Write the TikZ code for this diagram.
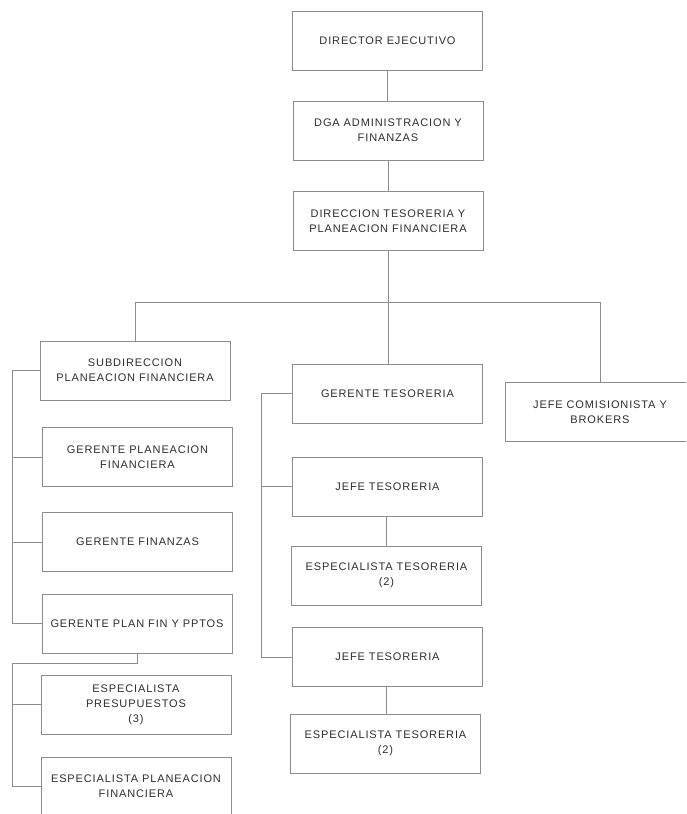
\documentclass[tikz,border=0pt]{standalone}
\usepackage{fontspec}
\setmainfont{Liberation Sans}[LetterSpace=8]
\begin{document}
\begin{tikzpicture}[x=1pt,y=-1pt,
  box/.style={draw=black!45, line width=0.6pt, minimum width=190pt, minimum height=59pt,
    align=center, inner sep=2pt, text=black!82,
    font=\fontsize{11}{15}\selectfont},
  link/.style={draw=black!45, line width=0.6pt}]
\useasboundingbox (0,0) rectangle (686,814);
\clip (0,0) rectangle (686,814);
\fill[white] (0,0) rectangle (686,814);
% top column
\node[box] (dir) at (387.5,41) {DIRECTOR EJECUTIVO};
\node[box] (dga) at (388,130.5) {DGA ADMINISTRACION Y\\FINANZAS};
\node[box] (dtp) at (388,221) {DIRECCION TESORERIA Y\\PLANEACION FINANCIERA};
% left column
\node[box] (sub) at (135,370.5) {SUBDIRECCION\\PLANEACION FINANCIERA};
\node[box] (gplan) at (137.5,457) {GERENTE PLANEACION\\FINANCIERA};
\node[box] (gfin) at (137.5,542) {GERENTE FINANZAS};
\node[box] (gpf) at (137,623.5) {GERENTE PLAN FIN Y PPTOS};
\node[box] (espp) at (136,704.5) {ESPECIALISTA\\PRESUPUESTOS\\(3)};
\node[box] (espl) at (136,786.5) {ESPECIALISTA PLANEACION\\FINANCIERA};
% middle column
\node[box] (gtes) at (387.5,393.5) {GERENTE TESORERIA};
\node[box] (jt1) at (387.5,486.5) {JEFE TESORERIA};
\node[box] (et1) at (386.5,575.5) {ESPECIALISTA TESORERIA\\(2)};
\node[box] (jt2) at (387.5,657) {JEFE TESORERIA};
\node[box] (et2) at (385.5,743.5) {ESPECIALISTA TESORERIA\\(2)};
% right
\node[box] (jcom) at (600,412) {JEFE COMISIONISTA Y\\BROKERS};
% helper coordinates
\coordinate (hy) at (0,302);
\coordinate (lb) at (12,0);
\coordinate (lb2) at (12,663);
\coordinate (mb) at (261,0);
% connectors
\draw[link] (dir.south) -- (dir.south |- dga.north);
\draw[link] (dga.south) -- (dtp.north);
\draw[link] (dtp.south) -- (dtp.south |- gtes.north);
\draw[link] (sub.north) |- (jcom.north |- hy) -- (jcom.north);
% left bracket
\draw[link] (sub.west) -- (sub.west -| lb) |- (gpf.west);
\draw[link] (gplan.west) -- (gplan.west -| lb);
\draw[link] (gfin.west) -- (gfin.west -| lb);
\draw[link] (gpf.south) |- (lb2) |- (espl.west);
\draw[link] (espp.west) -- (espp.west -| lb);
% middle bracket
\draw[link] (gtes.west) -- (gtes.west -| mb) |- (jt2.west);
\draw[link] (jt1.west) -- (jt1.west -| mb);
\draw[link] (et1.north -| jt1.south) ++(-1,0) coordinate (c1) (jt1.south -| c1) -- (c1);
\draw[link] (et2.north -| jt2.south) ++(-1.5,0) coordinate (c2) (jt2.south -| c2) -- (c2);
\end{tikzpicture}
\end{document}
